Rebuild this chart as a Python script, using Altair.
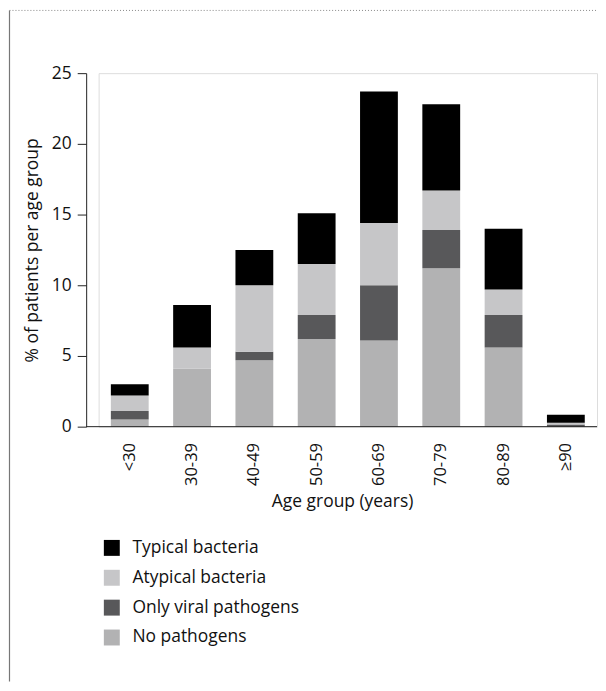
import altair as alt
import pandas as pd

ages = ["<30", "30-39", "40-49", "50-59", "60-69", "70-79", "80-89", "≥90"]
no_pathogens = [0.5, 4.1, 4.7, 6.2, 6.1, 11.2, 5.6, 0.0]
only_viral = [0.6, 0.0, 0.6, 1.7, 3.9, 2.7, 2.3, 0.15]
atypical = [1.1, 1.5, 4.7, 3.6, 4.4, 2.8, 1.8, 0.13]
typical = [0.8, 3.0, 2.5, 3.6, 9.3, 6.1, 4.3, 0.57]

series = ["Typical bacteria", "Atypical bacteria", "Only viral pathogens", "No pathogens"]
colors = ["#000000", "#c6c6c8", "#58585a", "#b2b2b3"]
y_ticks = [0, 5, 10, 15, 20, 25]

rows = []
for i, a in enumerate(ages):
    for s, vals, o in [
        ("No pathogens", no_pathogens, 0),
        ("Only viral pathogens", only_viral, 1),
        ("Atypical bacteria", atypical, 2),
        ("Typical bacteria", typical, 3),
    ]:
        rows.append({"age": a, "series": s, "value": vals[i], "ord": o})
df = pd.DataFrame(rows)

W = 500.5
H = 355
FONT = "Open Sans"
FS = 17.5

bars = alt.Chart(df).mark_bar().encode(
    x=alt.X(
        "age:N",
        sort=ages,
        scale=alt.Scale(paddingInner=0.393, paddingOuter=0.1965),
        axis=alt.Axis(
            title="Age group (years)",
            labelAngle=270,
            labelAlign="right",
            labelBaseline="middle",
            labelPadding=16,
            ticks=False,
            domain=False,
            labelFontSize=16.5,
            labelColor="#111",
            titleFontSize=FS,
            titleFontWeight="normal",
            titleColor="#111",
            titleX=244.5,
            titleY=66,
            titleBaseline="top",
        ),
    ),
    y=alt.Y(
        "value:Q",
        stack="zero",
        scale=alt.Scale(domain=[0, 25], nice=False),
        axis=alt.Axis(
            title="% of patients per age group",
            values=y_ticks,
            offset=12.5,
            tickSize=9,
            tickColor="#222",
            domainColor="#222",
            labelPadding=6,
            labelFontSize=FS,
            labelColor="#111",
            titleFontSize=FS,
            titleFontWeight="normal",
            titleColor="#111",
            titlePadding=10,
            grid=False,
        ),
    ),
    color=alt.Color(
        "series:N",
        scale=alt.Scale(domain=series, range=colors),
        legend=alt.Legend(
            title=None,
            orient="none",
            legendX=4.5,
            legendY=468,
            symbolType="square",
            symbolSize=256,
            symbolStrokeWidth=0,
            labelFontSize=FS,
            labelColor="#111",
            labelOffset=12,
            labelLimit=400,
            rowPadding=11,
        ),
    ),
    order=alt.Order("ord:Q"),
)

frame = pd.DataFrame({"k": [0]})
xaxis_line = alt.Chart(frame).mark_rule(color="#222", strokeWidth=1).encode(
    x=alt.value(-12.5), x2=alt.value(W), y=alt.value(H)
)
left_line = alt.Chart(frame).mark_rule(color="#777", strokeWidth=1.2).encode(
    x=alt.value(-89.5), y=alt.value(-63), y2=alt.value(611)
)
top_line = alt.Chart(frame).mark_rule(color="#888", strokeWidth=1, strokeDash=[1, 2]).encode(
    x=alt.value(-89.5), x2=alt.value(W), y=alt.value(-63)
)

chart = alt.layer(bars, xaxis_line, left_line, top_line).properties(
    width=W, height=H, padding=0
).configure_view(stroke=None).configure(font=FONT)

chart.save("out.html", embed_options={"renderer": "svg", "actions": False})
